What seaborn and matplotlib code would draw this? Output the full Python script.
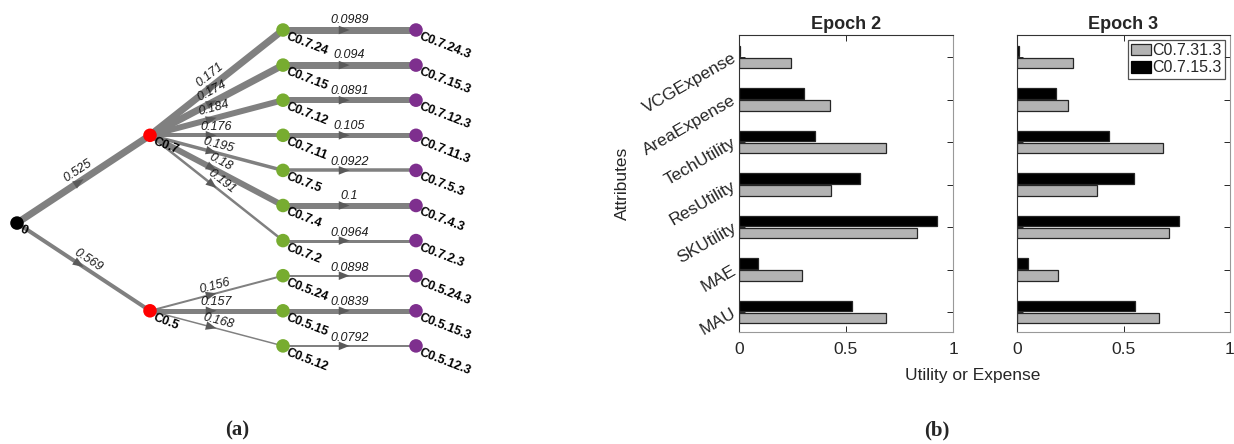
import numpy as np
import pandas as pd
import matplotlib
matplotlib.use("Agg")
import matplotlib.pyplot as plt
from matplotlib.patches import Patch
import seaborn as sns

sns.set_theme(style="white")
plt.rcParams['font.family'] = ['Liberation Sans', 'DejaVu Sans']

# ---------------- (a) epoch tree ----------------
root = "0"
stage1_nodes = ["C0.7", "C0.5"]
stage1_values = [0.525, 0.569]
stage2_nodes = ["C0.7.24", "C0.7.15", "C0.7.12", "C0.7.11", "C0.7.5", "C0.7.4",
                "C0.7.2", "C0.5.24", "C0.5.15", "C0.5.12"]
stage2_parents = ["C0.7"] * 7 + ["C0.5"] * 3
stage2_values = [0.171, 0.174, 0.184, 0.176, 0.195, 0.18, 0.191, 0.156, 0.157, 0.168]
stage3_nodes = [n + ".3" for n in stage2_nodes]
stage3_values = [0.0989, 0.094, 0.0891, 0.105, 0.0922, 0.1, 0.0964, 0.0898, 0.0839, 0.0792]

# edge thickness (pixels) per transition
stage1_width = [7, 4]
stage2_width = [7, 7, 6, 4, 3.5, 6, 2.5, 2, 5, 1.5]
stage3_width = [7, 7, 6, 5, 3.5, 6, 3, 2, 5, 2]

# ---------------- (b) attribute comparison ----------------
attributes = ["VCGExpense", "AreaExpense", "TechUtility", "ResUtility",
              "SKUtility", "MAE", "MAU"]
series_names = ["C0.7.31.3", "C0.7.15.3"]
epoch2_c31 = [0.243, 0.423, 0.689, 0.430, 0.830, 0.294, 0.687]
epoch2_c15 = [0.003, 0.303, 0.357, 0.567, 0.927, 0.087, 0.526]
epoch3_c31 = [0.261, 0.239, 0.684, 0.376, 0.712, 0.192, 0.669]
epoch3_c15 = [0.011, 0.181, 0.433, 0.549, 0.760, 0.050, 0.556]

W, H = 1234, 444
fig = plt.figure(figsize=(W / 100, H / 100), dpi=100)
PX = 0.72  # points per pixel


def frac(x0, y0, x1, y1):
    """pixel box (top-left origin) -> figure fraction rect"""
    return [x0 / W, 1 - y1 / H, (x1 - x0) / W, (y1 - y0) / H]


# ---- tree layout: leaves on consecutive rows, parents at mean of children
depth, row = {root: 0}, {}
for i, (a, b) in enumerate(zip(stage2_nodes, stage3_nodes)):
    row[a] = row[b] = float(i)
    depth[a], depth[b] = 2, 3
for p in stage1_nodes:
    row[p] = np.mean([row[c] for c, pp in zip(stage2_nodes, stage2_parents) if pp == p])
    depth[p] = 1
row[root] = np.mean([row[p] for p in stage1_nodes])

ax_t = fig.add_axes(frac(0, 0, 476, H))
col_px, row_px, x_org, y_org = 133.0, 35.1, 17.0, 30.0
ax_t.set_xlim(-x_org / col_px, (476 - x_org) / col_px)
ax_t.set_ylim((H - y_org) / row_px, -y_org / row_px)
ax_t.axis("off")

edges = ([(root, n, v, w) for n, v, w in zip(stage1_nodes, stage1_values, stage1_width)]
         + [(p, n, v, w) for p, n, v, w in zip(stage2_parents, stage2_nodes, stage2_values, stage2_width)]
         + [(a, b, v, w) for a, b, v, w in zip(stage2_nodes, stage3_nodes, stage3_values, stage3_width)])

for a, b, val, wpx in edges:
    x0, y0, x1, y1 = depth[a], row[a], depth[b], row[b]
    ax_t.plot([x0, x1], [y0, y1], color="#808080", lw=wpx * PX,
              solid_capstyle="butt", zorder=1)
    p0 = ax_t.transData.transform((x0, y0))
    p1 = ax_t.transData.transform((x1, y1))
    d = p1 - p0
    u = d / np.hypot(*d)
    nrm = np.array([-u[1], u[0]])
    ang = np.degrees(np.arctan2(d[1], d[0]))
    mx, my = (x0 + x1) / 2, (y0 + y1) / 2
    # direction arrowhead at the middle of the edge
    ax_t.annotate("", xy=(mx, my), xytext=(-u[0] * 9 * PX, -u[1] * 9 * PX),
                  textcoords="offset points",
                  arrowprops=dict(arrowstyle="-|>,head_length=0.55,head_width=0.22",
                                  color="#5a5a5a", lw=0.01, mutation_scale=14,
                                  shrinkA=0, shrinkB=0),
                  zorder=2)
    # transition value written along the edge
    off = (wpx / 2 + 0.5) * PX
    ax_t.annotate(f"{val:g}", xy=(mx, my), xytext=(nrm[0] * off, nrm[1] * off),
                  textcoords="offset points", rotation=ang, rotation_mode="anchor",
                  ha="center", va="bottom", fontstyle="italic", fontsize=9,
                  color="#1a1a1a", zorder=4)

nodes = pd.DataFrame({
    "name": list(depth.keys()),
    "depth": [depth[n] for n in depth],
    "row": [row[n] for n in depth],
})
sns.scatterplot(data=nodes, x="depth", y="row", hue="depth",
                palette={0: "black", 1: "#ff0000", 2: "#77ac30", 3: "#7e2f8e"},
                s=95, linewidth=0, legend=False, zorder=3, ax=ax_t)

for _, r in nodes.iterrows():
    t = ax_t.annotate(r["name"], xy=(r["depth"], r["row"]), xytext=(5.5 * PX, -0.5 * PX),
                      textcoords="offset points", rotation=-21, rotation_mode="anchor",
                      ha="left", va="top", fontweight="bold", fontsize=9,
                      color="black", zorder=4, annotation_clip=False)
    t.set_clip_on(True)

# ---------------- bar panels ----------------
palette = {series_names[0]: "#b3b3b3", series_names[1]: "black"}
panels = [("Epoch 2", epoch2_c31, epoch2_c15, frac(739, 35, 953, 332)),
          ("Epoch 3", epoch3_c31, epoch3_c15, frac(1017, 35, 1230, 332))]

for k, (title, c31, c15, rect) in enumerate(panels):
    ax = fig.add_axes(rect)
    df = pd.DataFrame({
        "Attribute": attributes * 2,
        "Series": [series_names[0]] * len(attributes) + [series_names[1]] * len(attributes),
        "Value": c31 + c15,
    })
    sns.barplot(data=df, y="Attribute", x="Value", hue="Series", order=attributes,
                hue_order=[series_names[1], series_names[0]], palette=palette,
                orient="h", width=0.56, gap=0.1, saturation=1,
                edgecolor="#262626", linewidth=0.9, legend=False, ax=ax)
    ax.set_xlim(0, 1)
    ax.set_ylim(6.47, -0.52)
    ax.set_xticks([0, 0.5, 1])
    ax.set_xticklabels(["0", "0.5", "1"], fontsize=12.5, color="#262626")
    ax.set_xlabel("")
    ax.set_ylabel("")
    ax.tick_params(axis="both", direction="in", length=4, width=0.7, color="#262626",
                   top=True, right=True, left=True, bottom=True)
    ax.tick_params(axis="x", pad=7)
    ax.set_yticks(range(len(attributes)))
    if k == 0:
        ax.set_yticklabels(attributes, rotation=30, ha="right", va="center",
                           rotation_mode="anchor", fontsize=12.5, color="#262626")
        ax.tick_params(axis="y", pad=3)
    else:
        ax.set_yticklabels([])
        handles = [Patch(facecolor="#b3b3b3", edgecolor="#262626", linewidth=0.9),
                   Patch(facecolor="black", edgecolor="black", linewidth=0.9)]
        leg = ax.legend(handles, series_names, loc="upper right", fontsize=11.5,
                        frameon=True, fancybox=False, edgecolor="#262626",
                        handlelength=1.25, handleheight=0.75, handletextpad=0.1,
                        borderpad=0.2, labelspacing=0.15, borderaxespad=0.3)
        leg.get_frame().set_linewidth(0.9)
    for side in ["left", "top"]:
        ax.spines[side].set_color("#333333")
        ax.spines[side].set_linewidth(0.8)
    for side in ["right", "bottom"]:
        ax.spines[side].set_color("#999999")
        ax.spines[side].set_linewidth(0.8)
    ax.set_title(title, fontweight="bold", fontsize=13, pad=4)

fig.text(622 / W, 1 - 183 / H, "Attributes", rotation=90, ha="center", va="center",
         fontsize=12.5, color="#262626")
fig.text(973 / W, 1 - 375 / H, "Utility or Expense", ha="center", va="center",
         fontsize=12.5, color="#262626")

for label, xc in [("(a)", 237), ("(b)", 937)]:
    fig.text(xc / W, 1 - 430 / H, label, ha="center", va="center", fontsize=15,
             fontweight="bold", family=["Liberation Serif", "DejaVu Serif"])

fig.savefig("out.png", dpi=100)
